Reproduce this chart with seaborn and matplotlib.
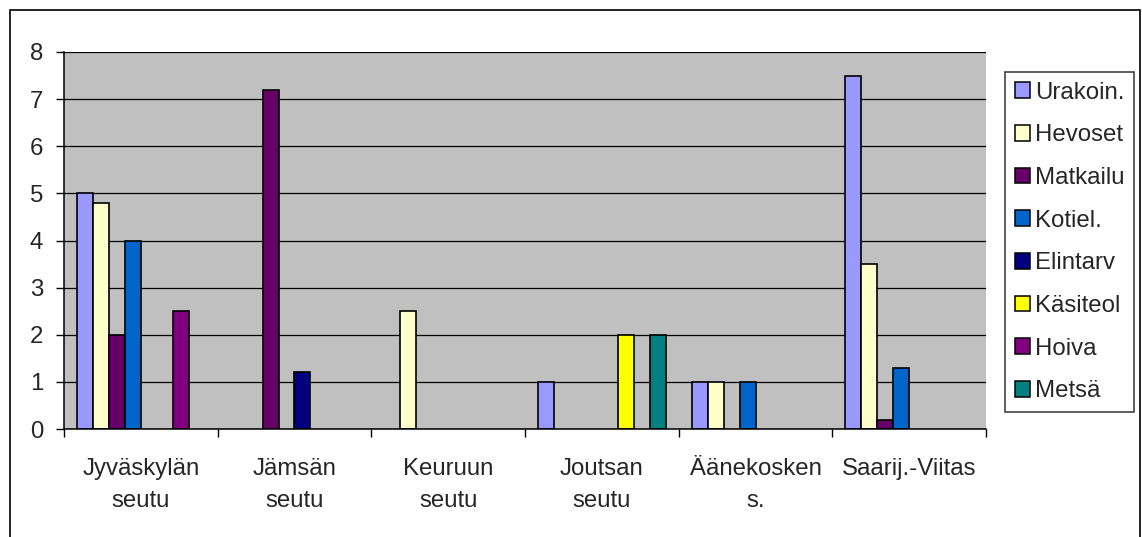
import matplotlib
matplotlib.use("Agg")
import matplotlib.pyplot as plt
from matplotlib.patches import Rectangle, Patch
import numpy as np
import pandas as pd
import seaborn as sns

# Data
regions = ["Jyväskylän\nseutu", "Jämsän\nseutu", "Keuruun\nseutu",
           "Joutsan\nseutu", "Äänekosken\ns.", "Saarij.-Viitas"]
series = ["Urakoin.", "Hevoset", "Matkailu", "Kotiel.", "Elintarv",
          "Käsiteol", "Hoiva", "Metsä"]
nan = np.nan
urakoin = [5, nan, nan, 1, 1, 7.5]
hevoset = [4.8, nan, 2.5, nan, 1, 3.5]
matkailu = [2, 7.2, nan, nan, nan, 0.2]
kotiel = [4, nan, nan, nan, 1, 1.3]
elintarv = [nan, 1.2, nan, nan, nan, nan]
kasiteol = [nan, nan, nan, 2, nan, nan]
hoiva = [2.5, nan, nan, nan, nan, nan]
metsa = [nan, nan, nan, 2, nan, nan]
colors = ["#9999FF", "#FFFFCC", "#660066", "#0066CC", "#000080",
          "#FFFF00", "#800080", "#008080"]

values = [urakoin, hevoset, matkailu, kotiel, elintarv, kasiteol, hoiva, metsa]
rows = []
for name, vals in zip(series, values):
    for reg, v in zip(regions, vals):
        rows.append({"region": reg, "series": name, "value": v})
df = pd.DataFrame(rows)

sns.set_style("white")
plt.rcParams["font.family"] = ["Liberation Sans", "DejaVu Sans"]
fs = 17.3
plt.rcParams["font.size"] = fs

fig = plt.figure(figsize=(11.42, 5.37), dpi=100)
ax = fig.add_axes([64 / 1142, 1 - 429 / 537, (986 - 64) / 1142, (429 - 52) / 537])
ax.set_facecolor("#C0C0C0")

sns.barplot(data=df, x="region", y="value", hue="series", order=regions,
            hue_order=series, palette=colors, width=0.83, edgecolor="black",
            linewidth=1.2, saturation=1, errorbar=None, legend=False, ax=ax)

ax.set_xlim(-0.5, len(regions) - 0.5)
ax.set_ylim(0, 8)
ax.set_yticks(range(0, 9))
ax.yaxis.grid(True, color="black", linewidth=0.9)
ax.set_axisbelow(True)

# ticks at group boundaries, labels centred under groups
ax.set_xticks(np.arange(-0.5, len(regions), 1))
ax.set_xticklabels([])
ax.set_xticks(range(len(regions)), minor=True)
ax.set_xticklabels(regions, minor=True, linespacing=1.6)
ax.tick_params(axis="x", which="major", direction="out", length=6,
               width=1, color="black", bottom=True)
ax.tick_params(axis="x", which="minor", length=0, pad=21, labelsize=fs)
ax.tick_params(axis="y", direction="out", length=6, width=1, color="black",
               left=True, pad=9, labelsize=fs)

for side in ["top", "right"]:
    ax.spines[side].set_visible(False)
for side in ["left", "bottom"]:
    ax.spines[side].set_color("black")
    ax.spines[side].set_linewidth(1.1)
ax.set_xlabel("")
ax.set_ylabel("")

handles = [Patch(facecolor=c, edgecolor="black", linewidth=1.1) for c in colors]
leg = fig.legend(handles, series, loc="upper left",
                 bbox_to_anchor=(1005 / 1142, 1 - 72 / 537),
                 frameon=True, fancybox=False, edgecolor="black",
                 handlelength=0.62, handleheight=0.62, handletextpad=0.22,
                 labelspacing=0.86, borderpad=0.4, borderaxespad=0,
                 fontsize=fs)
leg.get_frame().set_linewidth(1.1)

# outer chart border
fig.patches.append(Rectangle((9.5 / 1142, -0.1), (1140 - 9.5) / 1142,
                             1.1 - 9.5 / 537, transform=fig.transFigure,
                             fill=False, edgecolor="black", linewidth=1.2))

fig.savefig("out.png", dpi=100)
